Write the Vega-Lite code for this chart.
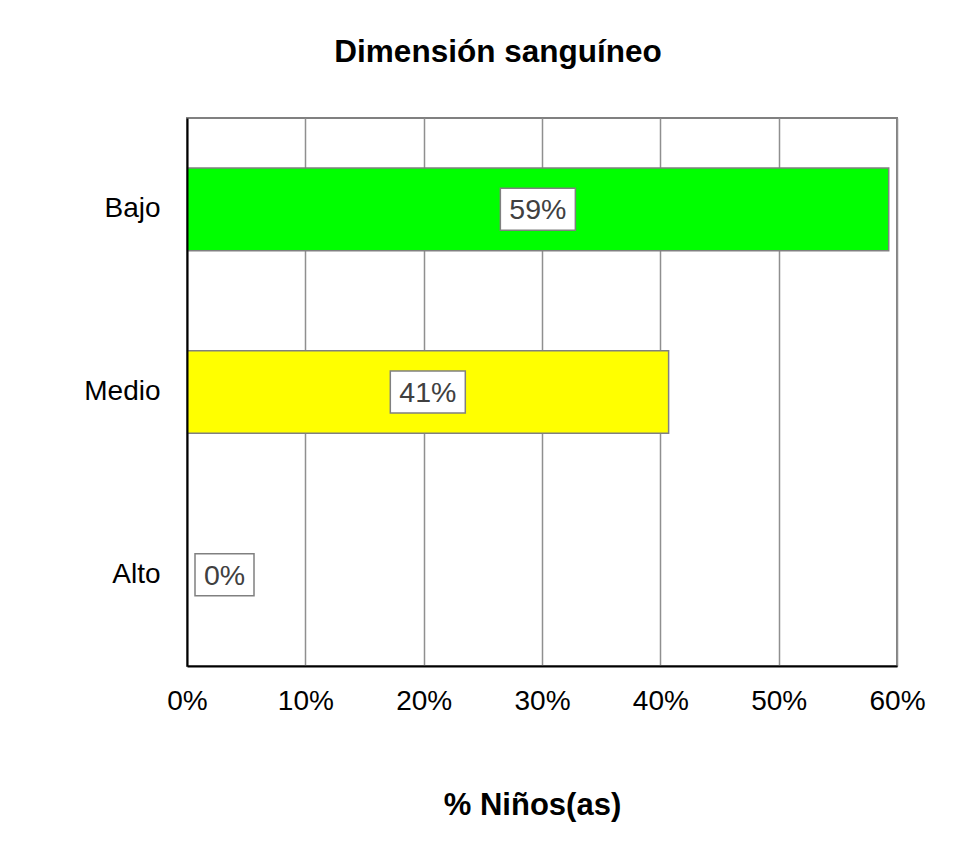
{
  "$schema": "https://vega.github.io/schema/vega-lite/v6.json",
  "autosize": {"type": "none"},
  "width": 710,
  "height": 548,
  "padding": {"left": 187, "top": 118, "right": 83, "bottom": 175},
  "background": "#ffffff",
  "title": {
    "text": "Dimensión sanguíneo",
    "font": "Liberation Sans",
    "fontSize": 31.5,
    "fontWeight": "bold",
    "color": "#000000",
    "anchor": "middle",
    "offset": 50,
    "dx": -44
  },
  "config": {
    "view": {"stroke": "#808080", "strokeWidth": 2},
    "font": "Liberation Sans"
  },
  "data": {
    "values": [
      {"nivel": "Bajo", "value": 0.593, "label": "59%"},
      {"nivel": "Medio", "value": 0.407, "label": "41%"},
      {"nivel": "Alto", "value": 0.0, "label": "0%"}
    ]
  },
  "encoding": {
    "y": {
      "field": "nivel",
      "type": "nominal",
      "sort": ["Bajo", "Medio", "Alto"],
      "scale": {"paddingInner": 0.547, "paddingOuter": 0.2735},
      "axis": {
        "title": null,
        "ticks": false,
        "labelPadding": 27,
        "labelFontSize": 28,
        "labelColor": "#000000",
        "labelFont": "Liberation Sans",
        "domainColor": "#000000",
        "domainWidth": 2,
        "zindex": 1
      }
    }
  },
  "layer": [
    {
      "mark": {"type": "bar", "stroke": "#808080", "strokeWidth": 1.5},
      "encoding": {
        "x": {
          "field": "value",
          "type": "quantitative",
          "scale": {"domain": [0, 0.6], "nice": false},
          "axis": {
            "format": ".0%",
            "values": [0, 0.1, 0.2, 0.3, 0.4, 0.5, 0.6],
            "ticks": false,
            "labelPadding": 21,
            "labelFontSize": 28,
            "labelColor": "#000000",
            "labelFont": "Liberation Sans",
            "labelFlush": false,
            "domainColor": "#000000",
            "domainWidth": 2,
            "grid": true,
            "gridColor": "#8f8f8f",
            "gridWidth": 1.5,
            "title": "% Niños(as)",
            "titleFont": "Liberation Sans",
            "titleFontSize": 31,
            "titleFontWeight": "bold",
            "titleColor": "#000000",
            "titleBaseline": "alphabetic",
            "titleX": 345,
            "titleY": 148
          }
        },
        "color": {
          "field": "nivel",
          "type": "nominal",
          "scale": {"domain": ["Bajo", "Medio", "Alto"], "range": ["#00ff00", "#ffff00", "#ff0000"]},
          "legend": null
        }
      }
    },
    {
      "transform": [{"filter": "datum.value > 0"}, {"calculate": "datum.value / 2", "as": "mid"}],
      "mark": {"type": "point", "shape": "M-3.75,-2.1H3.75V2.1H-3.75Z", "size": 400, "filled": true, "fill": "#ffffff", "stroke": "#808080", "strokeWidth": 1.5, "opacity": 1},
      "encoding": {"x": {"field": "mid", "type": "quantitative"}}
    },
    {
      "transform": [{"filter": "datum.value > 0"}, {"calculate": "datum.value / 2", "as": "mid"}],
      "mark": {"type": "text", "fontSize": 28.5, "color": "#404040", "font": "Liberation Sans", "align": "center", "baseline": "middle", "dy": 1},
      "encoding": {"x": {"field": "mid", "type": "quantitative"}, "text": {"field": "label"}}
    },
    {
      "transform": [{"filter": "datum.value == 0"}],
      "mark": {"type": "point", "shape": "M-2.95,-2.1H2.95V2.1H-2.95Z", "size": 400, "filled": true, "fill": "#ffffff", "stroke": "#808080", "strokeWidth": 1.5, "opacity": 1, "xOffset": 37.5},
      "encoding": {"x": {"field": "value", "type": "quantitative"}}
    },
    {
      "transform": [{"filter": "datum.value == 0"}],
      "mark": {"type": "text", "fontSize": 28.5, "color": "#404040", "font": "Liberation Sans", "align": "center", "baseline": "middle", "dy": 1, "xOffset": 37.5},
      "encoding": {"x": {"field": "value", "type": "quantitative"}, "text": {"field": "label"}}
    }
  ]
}
